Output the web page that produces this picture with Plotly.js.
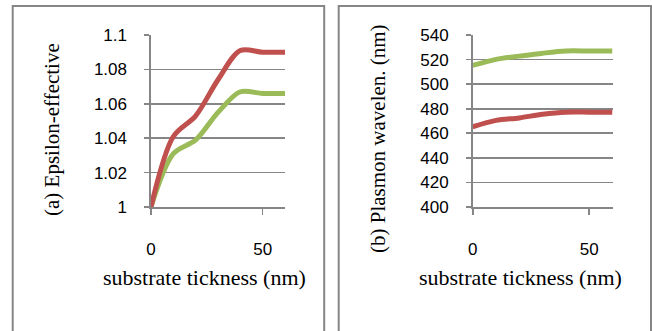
<!DOCTYPE html>
<html>
<head>
<meta charset="utf-8">
<script src="https://cdn.plot.ly/plotly-3.0.1.min.js"></script>
<style>html,body{margin:0;padding:0;background:#fff}#chart{width:652px;height:331px}</style>
</head>
<body>
<div id="chart"></div>
<script>
// Data
const thickness = [0, 10, 20, 30, 40, 50, 60];
const epsRed   = [1.000, 1.041, 1.053, 1.074, 1.091, 1.090, 1.090];
const epsGreen = [1.000, 1.031, 1.039, 1.055, 1.067, 1.066, 1.066];
const wavRed   = [465.3, 470.5, 472.5, 475.5, 477.2, 477.2, 477.2];
const wavGreen = [515.2, 520.2, 522.8, 525.2, 527.0, 527.0, 527.0];

const epsTickVals = [1, 1.02, 1.04, 1.06, 1.08, 1.1];
const epsTickText = ['1', '1.02', '1.04', '1.06', '1.08', '1.1'];
const wavTickVals = [400, 420, 440, 460, 480, 500, 520, 540];
const wavTickText = ['400', '420', '440', '460', '480', '500', '520', '540'];
const xTickVals = [0, 50];
const xTickText = ['0', '50'];

const xTitle = 'substrate tickness (nm)';
const yTitleA = '(a) Epsilon-effective';
const yTitleB = '(b) Plasmon wavelen. (nm)';

const RED = '#C0504D', GREEN = '#9BBB59', GRID = '#868686';
const W = 652, H = 331;
const px = v => v / W;
const py = v => (H - v) / H;

function line(x, y, color, xa, ya) {
  return {x: x, y: y, xaxis: xa, yaxis: ya, type: 'scatter', mode: 'lines',
    line: {color: color, width: 5, shape: 'spline', smoothing: 0.9},
    hoverinfo: 'skip', showlegend: false, cliponaxis: false};
}

const traces = [
  line(thickness, epsGreen, GREEN, 'x', 'y'),
  line(thickness, epsRed, RED, 'x', 'y'),
  line(thickness, wavGreen, GREEN, 'x2', 'y2'),
  line(thickness, wavRed, RED, 'x2', 'y2')
];

const tickFont = {family: 'Liberation Sans, Arial, sans-serif', size: 17, color: '#000'};
const xTitleFont = {family: 'Liberation Serif, Times New Roman, serif', size: 22, color: '#000'};
const yTitleFont = {family: 'Liberation Serif, Times New Roman, serif', size: 21, color: '#000'};

function xaxis(domain, anchor) {
  return {domain: domain, anchor: anchor, range: [0, 60], tickvals: xTickVals, ticktext: xTickText,
    showgrid: false, zeroline: false, showline: true, linecolor: GRID, linewidth: 1.6,
    ticks: 'outside', ticklen: 6, tickwidth: 1.6, tickcolor: GRID, tickfont: tickFont,
    ticklabelstandoff: 20, fixedrange: true};
}
function yaxis(domain, anchor, range, tv, tt) {
  return {domain: domain, anchor: anchor, range: range, tickvals: tv, ticktext: tt,
    showgrid: true, gridcolor: GRID, gridwidth: 1.6, zeroline: false, showline: true,
    linecolor: GRID, linewidth: 1.6, ticks: 'outside', ticklen: 5, tickwidth: 1.6, tickcolor: GRID,
    tickfont: tickFont, ticklabelstandoff: 14, fixedrange: true};
}

const yDom = [py(207), py(35)];
const layout = {
  width: W, height: H, margin: {l: 0, r: 0, t: 0, b: 0},
  paper_bgcolor: '#fff', plot_bgcolor: 'rgba(0,0,0,0)', showlegend: false,
  xaxis: xaxis([px(151), px(285)], 'y'),
  yaxis: yaxis(yDom, 'x', [1, 1.1], epsTickVals, epsTickText),
  xaxis2: xaxis([px(472.7), px(612.5)], 'y2'),
  yaxis2: yaxis(yDom, 'x2', [400, 540], wavTickVals, wavTickText),
  shapes: [
    {type: 'rect', xref: 'paper', yref: 'paper', x0: px(12.7), x1: px(324.2), y0: py(345), y1: py(6),
     line: {color: GRID, width: 2}, fillcolor: 'rgba(0,0,0,0)'},
    {type: 'rect', xref: 'paper', yref: 'paper', x0: px(338.7), x1: px(651), y0: py(345), y1: py(6),
     line: {color: GRID, width: 2}, fillcolor: 'rgba(0,0,0,0)'}
  ],
  annotations: [
    {text: xTitle, xref: 'paper', yref: 'paper', x: px(204), y: py(277), xanchor: 'center', yanchor: 'middle', showarrow: false, font: xTitleFont},
    {text: xTitle, xref: 'paper', yref: 'paper', x: px(520.5), y: py(277), xanchor: 'center', yanchor: 'middle', showarrow: false, font: xTitleFont},
    {text: yTitleA, xref: 'paper', yref: 'paper', x: px(52), y: py(130), xanchor: 'center', yanchor: 'middle', textangle: -90, showarrow: false, font: yTitleFont},
    {text: yTitleB, xref: 'paper', yref: 'paper', x: px(378), y: py(139), xanchor: 'center', yanchor: 'middle', textangle: -90, showarrow: false, font: yTitleFont}
  ]
};

Plotly.newPlot('chart', traces, layout, {staticPlot: true, displayModeBar: false});
</script>
</body>
</html>
